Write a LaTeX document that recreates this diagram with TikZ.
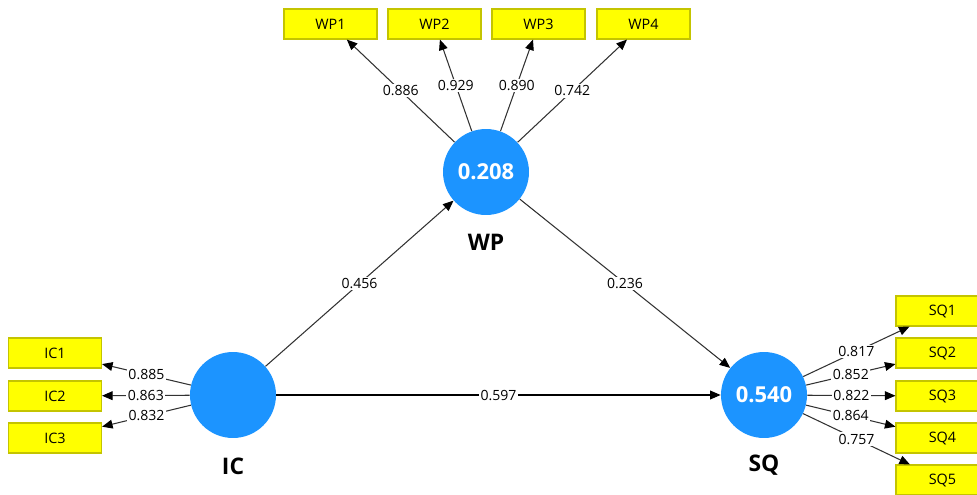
\documentclass[tikz,border=0pt]{standalone}
\usepackage{fontspec}
\setmainfont{Open Sans}
\usepackage{tikz}
\usetikzlibrary{arrows.meta}
\usepackage{xcolor}
\definecolor{lvblue}{RGB}{28,148,255}
\definecolor{mvyellow}{RGB}{255,255,0}
\definecolor{mvedge}{RGB}{196,196,0}
\definecolor{pathgray}{RGB}{50,50,50}

\begin{document}
\begin{tikzpicture}[x=0.02cm,y=-0.02cm,
    latent/.style={circle,fill=lvblue,inner sep=0pt,minimum size=1.72cm,
        text=white,font=\fontsize{12.5}{14}\selectfont\bfseries},
    indicator/.style={rectangle,draw=mvedge,fill=mvyellow,line width=0.6pt,
        minimum width=1.86cm,minimum height=0.6cm,inner sep=0pt,
        font=\fontsize{8.2}{9}\selectfont},
    lvname/.style={font=\fontsize{13}{15}\selectfont\bfseries},
    link/.style={draw=pathgray,line width=0.6pt,
        -{Triangle[length=6pt,width=5pt,color=black]}},
    coef/.style={fill=white,inner sep=0.8pt,font=\fontsize{8}{9}\selectfont}
]

% page frame
\useasboundingbox (0,0) rectangle (977,494);

% Latent variables
\node[latent] (wp) at (486,172) {0.208};
\node[latent] (ic) at (233,395) {};
\node[latent] (sq) at (764,395) {0.540};
\node[lvname] (wplab) at (486,242) {WP};
\node[lvname] (iclab) at (233,466) {IC};
\node[lvname] (sqlab) at (764,465) {SQ};

% WP indicators (top row)
\node[indicator] (wp1) at (330.5,24) {WP1};
\node[indicator] (wp2) at (434.5,24) {WP2};
\node[indicator] (wp3) at (538.5,24) {WP3};
\node[indicator] (wp4) at (643.5,24) {WP4};

% IC indicators (left column)
\node[indicator] (ic1) at (55,353) {IC1};
\node[indicator] (ic2) at (55,396) {IC2};
\node[indicator] (ic3) at (55,438) {IC3};

% SQ indicators (right column, cut by the page edge)
\node[indicator] (sq1) at (942.5,311) {SQ1};
\node[indicator] (sq2) at (942.5,353) {SQ2};
\node[indicator] (sq3) at (942.5,396) {SQ3};
\node[indicator] (sq4) at (942.5,438) {SQ4};
\node[indicator] (sq5) at (942.5,480) {SQ5};

% Outer loadings of WP
\draw[link] (wp) -- node[coef] {0.886} (wp1);
\draw[link] (wp) -- node[coef] {0.929} (wp2);
\draw[link] (wp) -- node[coef] {0.890} (wp3);
\draw[link] (wp) -- node[coef] {0.742} (wp4);

% Outer loadings of IC
\draw[link] (ic) -- node[coef] {0.885} (ic1);
\draw[link] (ic) -- node[coef] {0.863} (ic2);
\draw[link] (ic) -- node[coef] {0.832} (ic3);

% Outer loadings of SQ
\draw[link] (sq) -- node[coef] {0.817} (sq1);
\draw[link] (sq) -- node[coef] {0.852} (sq2);
\draw[link] (sq) -- node[coef] {0.822} (sq3);
\draw[link] (sq) -- node[coef] {0.864} (sq4);
\draw[link] (sq) -- node[coef] {0.757} (sq5);

% Path coefficients
\draw[link] (ic) -- node[coef] {0.456} (wp);
\draw[link] (wp) -- node[coef] {0.236} (sq);
\draw[link,draw=black] (ic) -- node[coef] {0.597} (sq);

\end{tikzpicture}
\end{document}
